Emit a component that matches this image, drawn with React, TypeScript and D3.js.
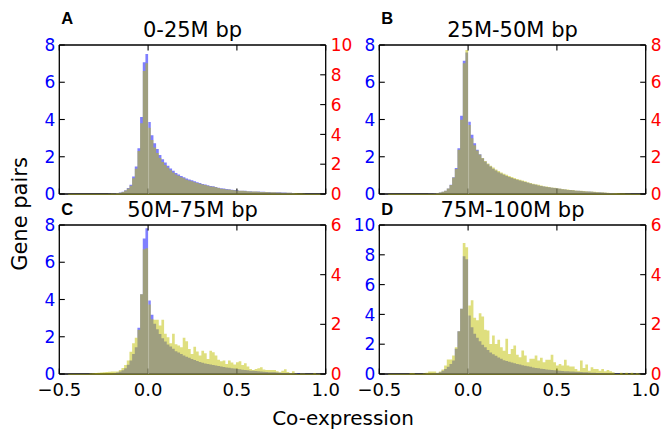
import React from 'react';
import * as d3 from 'd3';

// histogram bins: 95 bins of 0.015 starting at -0.45
const BIN_START = -0.45;
const BIN_WIDTH = 0.015;

const panelLetters = ['A', 'B', 'C', 'D'];
const panelTitles = ['0-25M bp', '25M-50M bp', '50M-75M bp', '75M-100M bp'];
const leftMax = [8, 8, 8, 10];
const rightMax = [10, 8, 6, 6];
const xTicks = [-0.5, 0, 0.5, 1.0];
const yTickStep = 2;

// blue = left axis, yellow = right axis
const blueA = [
  0, 0, 0, 0, 0, 0, 0, 0, 0, 0,
  0, 0, 0, 0, 0, 0.01, 0.02, 0.03, 0.05, 0.08,
  0.12, 0.2, 0.32, 0.5, 0.94, 1.48, 2.46, 4.13, 7.07, 7.52,
  3.87, 3.16, 2.73, 2.41, 2.1, 1.86, 1.69, 1.52, 1.37, 1.25,
  1.13, 1.05, 0.97, 0.9, 0.83, 0.78, 0.74, 0.68, 0.63, 0.59,
  0.54, 0.51, 0.47, 0.43, 0.41, 0.38, 0.34, 0.31, 0.29, 0.27,
  0.25, 0.23, 0.21, 0.2, 0.18, 0.18, 0.17, 0.15, 0.15, 0.14,
  0.14, 0.13, 0.12, 0.12, 0.11, 0.11, 0.1, 0.1, 0.09, 0.09,
  0.08, 0.08, 0.07, 0.07, 0.06, 0, 0, 0, 0, 0,
  0, 0, 0, 0, 0,
];
const yellowA = [
  0, 0, 0, 0, 0, 0, 0, 0, 0, 0,
  0, 0, 0, 0, 0, 0.01, 0.03, 0.04, 0.06, 0.09,
  0.14, 0.23, 0.37, 0.56, 1.06, 1.69, 2.88, 4.75, 8.25, 8.77,
  4.44, 3.62, 3.12, 2.75, 2.41, 2.15, 1.95, 1.76, 1.6, 1.45,
  1.31, 1.22, 1.12, 1.05, 0.96, 0.91, 0.86, 0.79, 0.74, 0.69,
  0.63, 0.6, 0.55, 0.5, 0.48, 0.45, 0.4, 0.36, 0.34, 0.31,
  0.3, 0.27, 0.25, 0.24, 0.21, 0.21, 0.2, 0.18, 0.17, 0.16,
  0.16, 0.15, 0.14, 0.14, 0.13, 0.12, 0.12, 0.11, 0.1, 0.1,
  0.09, 0.09, 0.08, 0.08, 0.07, 0.05, 0.04, 0.03, 0.02, 0,
  0, 0, 0, 0, 0,
];
const blueB = [
  0, 0, 0, 0, 0, 0, 0, 0, 0, 0,
  0, 0, 0, 0, 0, 0.01, 0.02, 0.03, 0.05, 0.08,
  0.12, 0.18, 0.3, 0.5, 0.9, 1.39, 2.46, 4.2, 7.16, 7.6,
  3.88, 3.18, 2.73, 2.38, 2.14, 1.92, 1.75, 1.6, 1.47, 1.36,
  1.26, 1.17, 1.1, 1.03, 0.97, 0.91, 0.86, 0.81, 0.77, 0.72,
  0.68, 0.64, 0.6, 0.56, 0.52, 0.49, 0.46, 0.43, 0.4, 0.38,
  0.36, 0.34, 0.32, 0.3, 0.28, 0.26, 0.24, 0.22, 0.21, 0.2,
  0.18, 0.17, 0.16, 0.15, 0.14, 0.13, 0.12, 0.11, 0.1, 0.09,
  0.08, 0.07, 0.06, 0.05, 0.04, 0.03, 0, 0, 0, 0,
  0, 0, 0, 0, 0,
];
const yellowB = [
  0, 0, 0, 0, 0, 0, 0, 0, 0, 0,
  0, 0, 0, 0, 0, 0.01, 0.02, 0.03, 0.05, 0.08,
  0.12, 0.18, 0.29, 0.48, 0.88, 1.34, 2.38, 3.98, 7.02, 7.73,
  3.71, 3.0, 2.62, 2.33, 2.12, 1.93, 1.77, 1.64, 1.52, 1.42,
  1.32, 1.23, 1.16, 1.09, 1.03, 0.97, 0.91, 0.86, 0.81, 0.76,
  0.72, 0.68, 0.63, 0.59, 0.55, 0.52, 0.49, 0.45, 0.42, 0.4,
  0.38, 0.35, 0.33, 0.31, 0.29, 0.27, 0.25, 0.24, 0.22, 0.21,
  0.19, 0.18, 0.17, 0.16, 0.15, 0.14, 0.13, 0.12, 0.11, 0.1,
  0.09, 0.08, 0.07, 0.06, 0.06, 0.05, 0.04, 0.03, 0.03, 0.02,
  0.01, 0, 0, 0, 0,
];
const blueC = [
  0, 0, 0, 0, 0, 0, 0, 0, 0, 0,
  0, 0, 0, 0, 0, 0.01, 0.02, 0.04, 0.08, 0.13,
  0.2, 0.31, 0.5, 0.72, 1.08, 1.43, 2.48, 4.28, 7.28, 7.82,
  3.95, 3.18, 2.7, 2.4, 2.15, 1.92, 1.75, 1.58, 1.47, 1.35,
  1.22, 1.15, 1.08, 1.0, 0.93, 0.87, 0.8, 0.75, 0.7, 0.64,
  0.6, 0.57, 0.54, 0.51, 0.48, 0.46, 0.43, 0.4, 0.38, 0.35,
  0.33, 0.31, 0.29, 0.27, 0.25, 0.23, 0.21, 0.2, 0.18, 0.17,
  0.16, 0.15, 0.14, 0.12, 0.11, 0.1, 0.1, 0.09, 0.08, 0.07,
  0.06, 0.06, 0.05, 0.04, 0.04, 0.03, 0.03, 0.02, 0.01, 0,
  0, 0, 0, 0, 0,
];
const yellowC = [
  0, 0, 0, 0, 0, 0, 0, 0, 0.02, 0.03,
  0.04, 0.05, 0.06, 0.07, 0.08, 0.09, 0.1, 0.1, 0.1, 0.16,
  0.24, 0.36, 0.54, 0.9, 1.24, 1.46, 1.78, 3.21, 5.02, 5.06,
  2.8, 2.2, 2.18, 2.18, 1.95, 2.18, 1.62, 1.48, 1.24, 1.62,
  1.2, 1.15, 1.08, 1.46, 1.32, 1.01, 0.81, 1.1, 0.91, 0.74,
  0.94, 0.84, 0.6, 0.94, 0.88, 0.74, 0.57, 0.51, 0.54, 0.4,
  0.54, 0.46, 0.38, 0.47, 0.51, 0.36, 0.43, 0.3, 0.2, 0.16,
  0.2, 0.23, 0.27, 0.18, 0.16, 0.16, 0.16, 0.16, 0.11, 0.07,
  0.13, 0.19, 0.08, 0.04, 0.11, 0.02, 0, 0.02, 0.02, 0,
  0, 0, 0.03, 0, 0,
];
const blueD = [
  0, 0, 0, 0, 0, 0, 0, 0, 0, 0,
  0, 0, 0, 0, 0.01, 0.02, 0.03, 0.05, 0.07, 0.12,
  0.22, 0.34, 0.49, 0.67, 0.9, 1.69, 2.87, 4.38, 7.9, 7.7,
  3.93, 3.14, 2.7, 2.43, 2.2, 1.97, 1.79, 1.61, 1.45, 1.33,
  1.22, 1.11, 1.02, 0.93, 0.88, 0.83, 0.78, 0.72, 0.67, 0.63,
  0.58, 0.55, 0.52, 0.48, 0.44, 0.41, 0.38, 0.35, 0.33, 0.31,
  0.29, 0.27, 0.25, 0.23, 0.22, 0.2, 0.19, 0.18, 0.17, 0.16,
  0.15, 0.14, 0.13, 0.12, 0.11, 0.1, 0.09, 0.08, 0.07, 0.06,
  0.06, 0.05, 0.04, 0.04, 0.03, 0.02, 0.01, 0, 0, 0,
  0, 0, 0, 0, 0,
];
const yellowD = [
  0, 0, 0, 0, 0, 0, 0, 0, 0.03, 0.03,
  0, 0, 0, 0.02, 0.05, 0.1, 0.1, 0.1, 0.05, 0.1,
  0.18, 0.34, 0.58, 0.58, 0.74, 1.08, 1.72, 2.63, 5.28, 5.1,
  2.76, 2.97, 2.27, 2.16, 2.45, 2.32, 1.78, 1.75, 1.21, 1.55,
  1.21, 1.38, 1.08, 0.94, 1.42, 0.81, 1.01, 1.15, 0.78, 0.67,
  0.95, 0.74, 0.47, 0.61, 0.61, 0.74, 0.54, 0.65, 0.47, 0.57,
  0.57, 0.78, 0.47, 0.34, 0.4, 0.34, 0.57, 0.34, 0.3, 0.3,
  0.2, 0.13, 0.54, 0.24, 0.38, 0.13, 0.27, 0.2, 0.2, 0.13,
  0.2, 0.11, 0.16, 0.11, 0.07, 0, 0, 0.05, 0, 0.05,
  0, 0.05, 0, 0.03, 0,
];

const blueSeries = [blueA, blueB, blueC, blueD];
const yellowSeries = [yellowA, yellowB, yellowC, yellowD];

// layout
const W = 665;
const H = 431;
const PW = 266.4;
const PH = 149;
const lefts = [59.3, 379.3];
const tops = [45, 225];
const FONT = '"DejaVu Sans", sans-serif';
const TICK = 5.5;

const fmt = d3.format('.1f');

function Panel({ i }: { i: number }) {
  const left = lefts[i % 2];
  const top = tops[Math.floor(i / 2)];
  const bottomRow = i >= 2;
  const blue = blueSeries[i];
  const yellow = yellowSeries[i];

  const x = d3.scaleLinear().domain([-0.5, 1.0]).range([left, left + PW]);
  const yL = d3.scaleLinear().domain([0, leftMax[i]]).range([top + PH, top]);
  const yR = d3.scaleLinear().domain([0, rightMax[i]]).range([top + PH, top]);

  const edges = d3.range(blue.length + 1).map((k) => BIN_START + k * BIN_WIDTH);
  const stepPts = (vals: number[]) => edges.map((e, k) => ({ e, v: vals[Math.min(k, vals.length - 1)] }));

  const blueArea = d3
    .area<{ e: number; v: number }>()
    .curve(d3.curveStepAfter)
    .x((d) => x(d.e))
    .y0(yL(0))
    .y1((d) => yL(d.v));
  const yellowArea = d3
    .area<{ e: number; v: number }>()
    .curve(d3.curveStepAfter)
    .x((d) => x(d.e))
    .y0(yR(0) + 0.8)
    .y1((d) => yR(d.v));

  const leftTicks = d3.range(0, leftMax[i] + 0.001, yTickStep);
  const rightTicks = d3.range(0, rightMax[i] + 0.001, yTickStep);

  // light seam at x = 0 (bin edge)
  const k0 = Math.round((0 - BIN_START) / BIN_WIDTH) - 1;
  const seamTop = Math.max(yL(blue[k0]), yR(yellow[k0]));

  const yb = top + PH;

  return (
    <g>
      {/* bottom spine + bottom ticks, drawn under the bars */}
      <line x1={left} x2={left + PW} y1={yb} y2={yb} stroke="#000" strokeWidth={1.3} />
      {xTicks.map((t) => (
        <line key={'bt' + t} x1={x(t)} x2={x(t)} y1={yb} y2={yb - TICK} stroke="#000" strokeWidth={1.1} />
      ))}

      <path d={blueArea(stepPts(blue)) || ''} fill="rgba(0,0,255,0.5)" />
      <path d={yellowArea(stepPts(yellow)) || ''} fill="rgba(191,191,0,0.5)" />
      <line x1={x(0) + 0.5} x2={x(0) + 0.5} y1={yb} y2={seamTop} stroke="rgba(255,255,255,0.3)" strokeWidth={1} />

      {/* remaining frame */}
      <line x1={left} x2={left + PW} y1={top} y2={top} stroke="#000" strokeWidth={1.3} />
      <line x1={left} x2={left} y1={top} y2={yb} stroke="#000" strokeWidth={1.3} />
      <line x1={left + PW} x2={left + PW} y1={top} y2={yb} stroke="#000" strokeWidth={1.3} />
      {xTicks.map((t) => (
        <line key={'tt' + t} x1={x(t)} x2={x(t)} y1={top} y2={top + TICK} stroke="#000" strokeWidth={1.1} />
      ))}
      {leftTicks.map((t) => (
        <g key={'l' + t}>
          <line x1={left} x2={left + TICK} y1={yL(t)} y2={yL(t)} stroke="#000" strokeWidth={1.1} />
          <text x={left - 4} y={yL(t)} dy="0.36em" textAnchor="end" fontSize={17} fontFamily={FONT} fill="#0000ff">
            {t}
          </text>
        </g>
      ))}
      {rightTicks.map((t) => (
        <g key={'r' + t}>
          <line x1={left + PW} x2={left + PW - TICK} y1={yR(t)} y2={yR(t)} stroke="#000" strokeWidth={1.1} />
          <text x={left + PW + 5} y={yR(t)} dy="0.36em" textAnchor="start" fontSize={17} fontFamily={FONT} fill="#ff0000">
            {t}
          </text>
        </g>
      ))}
      {bottomRow &&
        xTicks.map((t) => (
          <text key={'xl' + t} x={x(t)} y={396} textAnchor="middle" fontSize={18} fontFamily={FONT} fill="#000">
            {fmt(t)}
          </text>
        ))}

      <text x={left + PW / 2} y={top - 8} textAnchor="middle" fontSize={21} fontFamily={FONT} fill="#000">
        {panelTitles[i]}
      </text>
      <text
        x={left + 2}
        y={bottomRow ? top - 10 : top - 21}
        fontSize={16.5}
        fontWeight="bold"
        fontFamily='"Liberation Sans", Arial, sans-serif'
        fill="#000"
      >
        {panelLetters[i]}
      </text>
    </g>
  );
}

export default function App() {
  return (
    <svg
      width={W}
      height={H}
      viewBox={`0 0 ${W} ${H}`}
      style={{ position: 'absolute', left: 0, top: 0, background: '#fff' }}
    >
      <rect x={0} y={0} width={W} height={H} fill="#fff" />
      {[0, 1, 2, 3].map((i) => (
        <Panel key={i} i={i} />
      ))}
      <text x={27} y={214} transform="rotate(-90 27 214)" textAnchor="middle" fontSize={21} fontFamily={FONT} fill="#000">
        Gene pairs
      </text>
      <text x={343} y={425} textAnchor="middle" fontSize={20} fontFamily={FONT} fill="#000">
        Co-expression
      </text>
    </svg>
  );
}
